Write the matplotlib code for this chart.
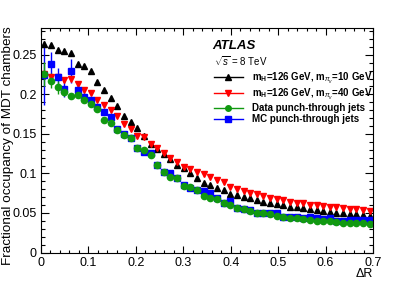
import numpy as np
import matplotlib
matplotlib.use('Agg')
import matplotlib.pyplot as plt
from matplotlib.lines import Line2D

plt.rcParams['font.family'] = ['Liberation Sans', 'DejaVu Sans']
plt.rcParams['mathtext.fontset'] = 'custom'
plt.rcParams['mathtext.rm'] = 'Liberation Sans'
plt.rcParams['mathtext.it'] = 'Liberation Sans:italic'
plt.rcParams['mathtext.bf'] = 'Liberation Sans:bold'

# Delta R bin centres (50 bins of width 0.014)
dR = np.arange(50) * 0.014 + 0.007

# mH=126 GeV, m_piv=10 GeV
occ_m10 = [0.264, 0.263, 0.256, 0.255, 0.252, 0.239, 0.236, 0.229, 0.216, 0.206,
           0.196, 0.185, 0.173, 0.165, 0.157, 0.147, 0.137, 0.131, 0.125, 0.118,
           0.111, 0.107, 0.100, 0.094, 0.0876, 0.0854, 0.0812, 0.0791, 0.0741, 0.0728,
           0.0707, 0.0686, 0.0665, 0.0644, 0.0631, 0.0614, 0.0597, 0.058, 0.0572, 0.0559,
           0.0546, 0.0538, 0.0529, 0.0517, 0.0504, 0.0496, 0.0487, 0.0483, 0.0475, 0.0462]
err_m10 = [0.004] + [0.002] * 49

# mH=126 GeV, m_piv=40 GeV
occ_m40 = [0.226, 0.222, 0.222, 0.218, 0.2196, 0.213, 0.206, 0.2015, 0.193, 0.187,
           0.180, 0.173, 0.162, 0.156, 0.147, 0.146, 0.137, 0.132, 0.126, 0.119,
           0.115, 0.108, 0.1057, 0.102, 0.099, 0.096, 0.0918, 0.0888, 0.0833, 0.0808,
           0.0779, 0.0749, 0.0737, 0.0716, 0.0686, 0.0673, 0.0665, 0.0644, 0.0631, 0.0623,
           0.0601, 0.0597, 0.0589, 0.058, 0.0572, 0.0559, 0.0555, 0.0546, 0.0538, 0.0525]
err_m40 = [0.004] + [0.002] * 49

# data punch-through jets
occ_data = [0.226, 0.2175, 0.209, 0.2035, 0.198, 0.1994, 0.193, 0.1876, 0.181, 0.167,
            0.164, 0.155, 0.149, 0.1445, 0.132, 0.130, 0.1234, 0.111, 0.102, 0.096,
            0.094, 0.084, 0.0825, 0.079, 0.0719, 0.0694, 0.0677, 0.0622, 0.0601, 0.0559,
            0.0546, 0.0529, 0.0496, 0.0496, 0.0487, 0.0462, 0.0445, 0.0432, 0.0432, 0.0424,
            0.0411, 0.0399, 0.0403, 0.0399, 0.0386, 0.0369, 0.0369, 0.0369, 0.0369, 0.0365]
err_data = [0.015, 0.010, 0.008, 0.006, 0.004] + [0.002] * 45

# MC punch-through jets
occ_mc = [0.2247, 0.2386, 0.2217, 0.207, 0.2297, 0.2057, 0.197, 0.193, 0.1846, 0.178,
          0.171, 0.156, 0.1496, 0.1445, 0.132, 0.127, 0.126, 0.111, 0.102, 0.101,
          0.094, 0.086, 0.081, 0.0795, 0.0782, 0.0749, 0.0686, 0.0622, 0.0656, 0.0559,
          0.0550, 0.0538, 0.0504, 0.0496, 0.0496, 0.0496, 0.0454, 0.0445, 0.0445, 0.0432,
          0.0445, 0.0432, 0.0424, 0.0432, 0.0403, 0.0403, 0.0411, 0.0411, 0.0411, 0.0411]
err_mc = [0.038, 0.015, 0.012, 0.010, 0.015, 0.006, 0.005, 0.004] + [0.002] * 42

xticks = [0, 0.1, 0.2, 0.3, 0.4, 0.5, 0.6, 0.7]
xticklabels = ['0', '0.1', '0.2', '0.3', '0.4', '0.5', '0.6', '0.7']
yticks = [0, 0.05, 0.1, 0.15, 0.2, 0.25]
yticklabels = ['0', '0.05', '0.1', '0.15', '0.2', '0.25']

labels = ['m$_\\mathregular{H}$=126 GeV, m$_{\\pi_v}$=10 GeV',
          'm$_\\mathregular{H}$=126 GeV, m$_{\\pi_v}$=40 GeV',
          'Data punch-through jets',
          'MC punch-through jets']

black = 'black'
red = '#ff0000'
green = '#119911'
blue = '#0000ff'

fig = plt.figure(figsize=(4.15, 2.81), dpi=100)
ax = fig.add_axes([0.0988, 0.1014, 0.8, 0.799])

ms = 4.5
ax.errorbar(dR, occ_m10, yerr=err_m10, fmt='^', color=black, ms=ms, lw=1, capsize=0)
ax.errorbar(dR, occ_m40, yerr=err_m40, fmt='v', color=red, ms=ms, lw=1, capsize=0)
ax.errorbar(dR, occ_mc, yerr=err_mc, fmt='s', color=blue, ms=ms, lw=1, capsize=0)
ax.errorbar(dR, occ_data, yerr=err_data, fmt='o', color=green, ms=ms, lw=1, capsize=0)

ax.set_xlim(0, 0.7)
ax.set_ylim(0, 0.284)
ax.set_xticks(xticks)
ax.set_xticklabels(xticklabels)
ax.set_xticks(np.arange(0, 0.701, 0.02), minor=True)
ax.set_yticks(yticks)
ax.set_yticklabels(yticklabels)
ax.set_yticks(np.arange(0, 0.284, 0.01), minor=True)
ax.tick_params(which='both', direction='in', top=True, right=True, labelsize=9, width=0.8)
ax.tick_params(axis='x', which='major', length=5, pad=3)
ax.tick_params(axis='x', which='minor', length=2.5)
ax.tick_params(axis='y', which='major', length=6, pad=3)
ax.tick_params(axis='y', which='minor', length=3)
for s in ax.spines.values():
    s.set_linewidth(0.8)

fig.text(8 / 415, 1 - 146 / 281, 'Fractional occupancy of MDT chambers',
         fontsize=9.7, rotation=90, ha='center', va='center')
fig.text(373 / 415, 1 / 281, 'ΔR', fontsize=9, ha='right', va='bottom')

ax.text(0.515, 0.905, 'ATLAS', transform=ax.transAxes, fontsize=9.5,
        fontweight='bold', fontstyle='italic')
ax.text(0.52, 0.83, '$\\sqrt{s}$ = 8 TeV', transform=ax.transAxes, fontsize=7)

handles = [Line2D([], [], color=black, marker='^', ms=4, lw=1),
           Line2D([], [], color=red, marker='v', ms=4, lw=1),
           Line2D([], [], color=green, marker='o', ms=4, lw=1),
           Line2D([], [], color=blue, marker='s', ms=4, lw=1)]
leg = ax.legend(handles, labels, loc='upper left', bbox_to_anchor=(0.52, 0.81),
                frameon=False, fontsize=7, handlelength=3.0, handletextpad=0.9,
                labelspacing=0.12, borderaxespad=0, borderpad=0)
for t in leg.get_texts():
    t.set_fontweight('bold')

fig.savefig('out.png', dpi=100)
